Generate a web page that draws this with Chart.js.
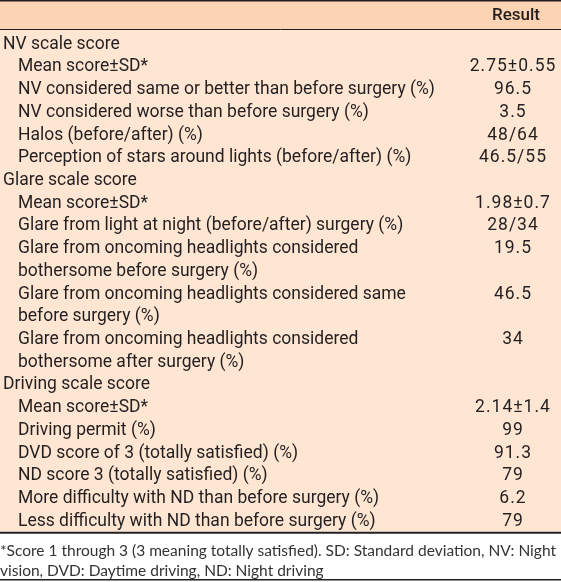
<!DOCTYPE html>
<html>
<head>
<meta charset="utf-8">
<script src="https://cdn.jsdelivr.net/npm/chart.js@4/dist/chart.umd.min.js"></script>
<style>
  html, body { margin: 0; padding: 0; background: #fff; }
  #table { display: block; }
</style>
</head>
<body>
<canvas id="table" width="561" height="582"></canvas>
<script>
// Table data
const headerLabels = ['', 'Result'];

const rowLabels = [
	'NV scale score',
	'Mean score\u00b1SD*',
	'NV considered same or better than before surgery (%)',
	'NV considered worse than before surgery (%)',
	'Halos (before/after) (%)',
	'Perception of stars around lights (before/after) (%)',
	'Glare scale score',
	'Mean score\u00b1SD*',
	'Glare from light at night (before/after) surgery (%)',
	['Glare from oncoming headlights considered', 'bothersome before surgery (%)'],
	['Glare from oncoming headlights considered same', 'before surgery (%)'],
	['Glare from oncoming headlights considered', 'bothersome after surgery (%)'],
	'Driving scale score',
	'Mean score\u00b1SD*',
	'Driving permit (%)',
	'DVD score of 3 (totally satisfied) (%)',
	'ND score 3 (totally satisfied) (%)',
	'More difficulty with ND than before surgery (%)',
	'Less difficulty with ND than before surgery (%)'
];

const rowValues = [
	'', '2.75\u00b10.55', '96.5', '3.5', '48/64', '46.5/55',
	'', '1.98\u00b10.7', '28/34', '19.5', '46.5', '34',
	'', '2.14\u00b11.4', '99', '91.3', '79', '6.2', '79'
];

const rowIsGroup = [
	true, false, false, false, false, false,
	true, false, false, false, false, false,
	true, false, false, false, false, false, false
];

const footnote = [
	'*Score 1 through 3 (3 meaning totally satisfied). SD: Standard deviation, NV: Night',
	'vision, DVD: Daytime driving, ND: Night driving'
];

// colours
const headerBg = '#fcd3b3';
const bodyBg = '#fee6d3';
const ink = '#231f20';
const cellFont = '17.5px Roboto';

// one entry per printed line
const lines = [];
rowLabels.forEach((label, i) => {
	const parts = Array.isArray(label) ? label : [label];
	parts.forEach((text, k) => {
		lines.push({ text, value: k === 0 ? rowValues[i] : '', group: rowIsGroup[i] });
	});
});

const tablePlugin = {
	id: 'tableText',
	beforeDatasetsDraw(chart) {
		const { ctx, chartArea } = chart;
		ctx.save();
		// header band and body strip above first line
		ctx.fillStyle = headerBg;
		ctx.fillRect(0, 0, chart.width, 30);
		ctx.fillStyle = bodyBg;
		ctx.fillRect(0, 30, chart.width, chartArea.top - 30 + 1);
		ctx.restore();
	},
	afterDatasetsDraw(chart) {
		const { ctx, chartArea } = chart;
		const y = chart.scales.y;
		ctx.save();
		ctx.fillStyle = ink;
		ctx.textBaseline = 'middle';

		// header
		ctx.textAlign = 'right';
		ctx.font = '500 17px Roboto';
		ctx.fillText(headerLabels[1], 540, 16);

		lines.forEach((ln, i) => {
			const py = y.getPixelForValue(i) + 1;
			ctx.font = cellFont;
			ctx.letterSpacing = '0px';
			ctx.textAlign = 'left';
			ctx.fillText(ln.text, ln.group ? 3 : 18, py);
			if (ln.value) {
				ctx.letterSpacing = '1px';
				ctx.textAlign = 'center';
				ctx.fillText(ln.value, 513, py);
			}
		});
		ctx.letterSpacing = '0px';

		// rules
		ctx.strokeStyle = ink;
		ctx.lineWidth = 1.5;
		ctx.beginPath();
		ctx.moveTo(0, 0.75); ctx.lineTo(chart.width, 0.75);
		ctx.stroke();
		ctx.lineWidth = 1;
		ctx.beginPath();
		ctx.moveTo(0, 29.5); ctx.lineTo(chart.width, 29.5);
		ctx.stroke();
		ctx.lineWidth = 2;
		ctx.beginPath();
		ctx.moveTo(0, chartArea.bottom + 1); ctx.lineTo(chart.width, chartArea.bottom + 1);
		ctx.stroke();
		ctx.lineWidth = 1.5;
		ctx.beginPath();
		ctx.moveTo(0, chart.height - 2.25); ctx.lineTo(chart.width, chart.height - 2.25);
		ctx.stroke();
		ctx.restore();
	}
};

new Chart(document.getElementById('table'), {
	type: 'bar',
	data: {
		labels: lines.map((ln, i) => i + ':' + ln.text),
		datasets: [{
			data: lines.map(() => [0, 1]),
			backgroundColor: bodyBg,
			borderColor: bodyBg,
			borderWidth: 1,
			borderSkipped: false,
			barPercentage: 1,
			categoryPercentage: 1
		}]
	},
	options: {
		responsive: false,
		animation: false,
		indexAxis: 'y',
		layout: { padding: { top: 32, left: 0, right: 0, bottom: 0 } },
		scales: {
			x: { display: false, min: 0, max: 1 },
			y: { display: false }
		},
		plugins: {
			legend: { display: false },
			tooltip: { enabled: false },
			title: {
				display: true,
				position: 'bottom',
				align: 'start',
				text: footnote,
				color: '#333',
				font: { family: 'Lato', size: 15.5, weight: 'normal', lineHeight: 1.3 },
				padding: { top: 9, bottom: 1 }
			}
		}
	},
	plugins: [tablePlugin]
});
</script>
</body>
</html>
